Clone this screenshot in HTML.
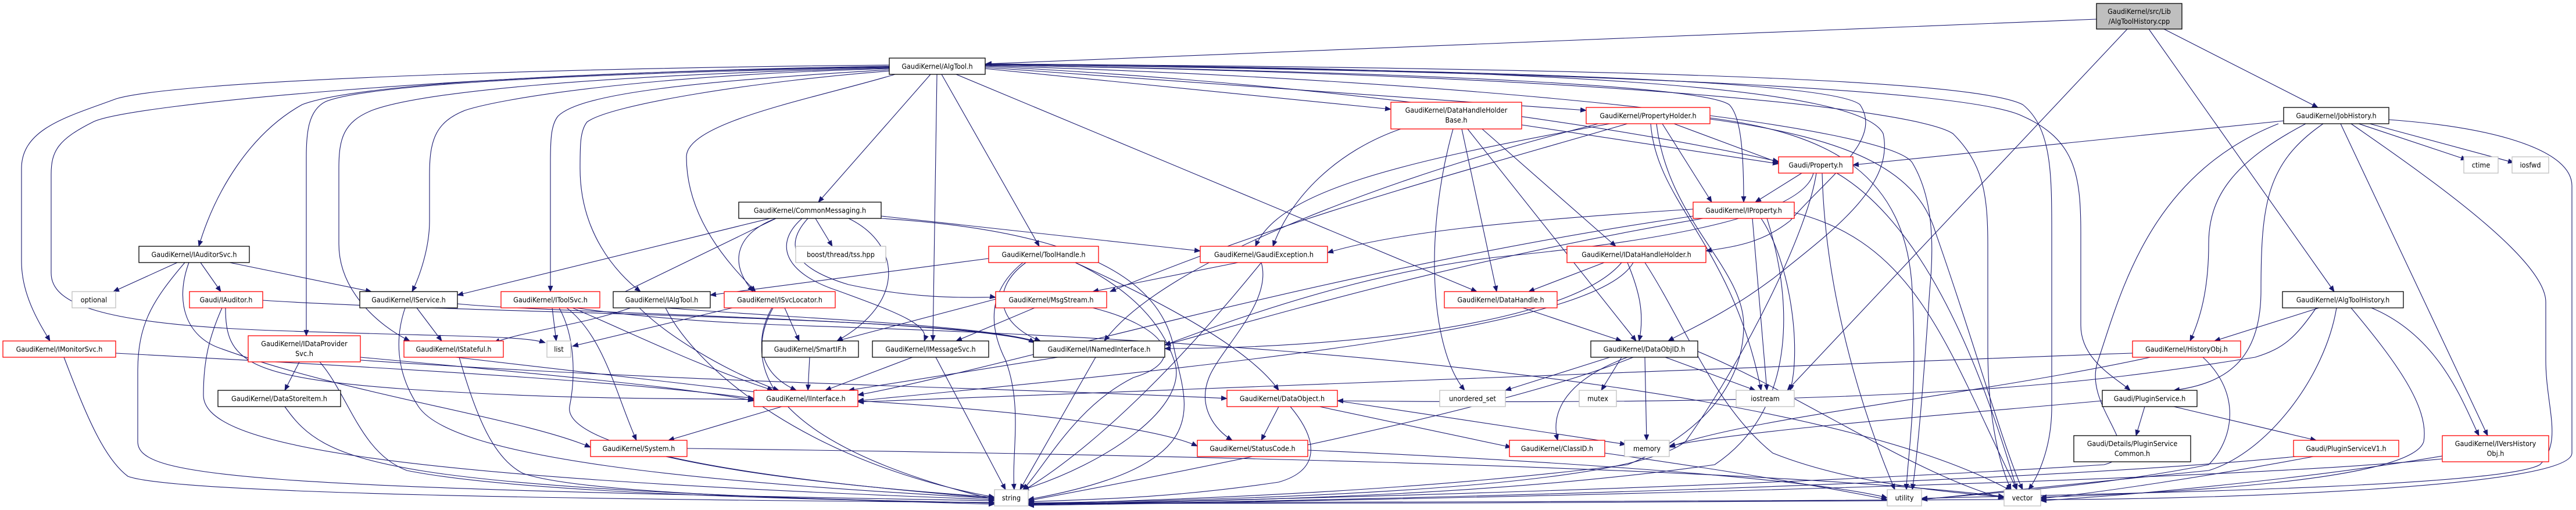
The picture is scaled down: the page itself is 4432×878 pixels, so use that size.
<!DOCTYPE html>
<html><head><meta charset="utf-8"><style>
html,body{margin:0;padding:0;background:#fff}
svg{display:block}
text{font-family:"DejaVu Sans","Liberation Sans",sans-serif;font-size:12.5px;fill:#000;text-anchor:middle;font-stretch:condensed}
.e{fill:none;stroke:#191970;stroke-width:1.1}
.r{fill:#fff;stroke:#ff0000;stroke-width:1.3}
.b{fill:#fff;stroke:#000;stroke-width:1.3}
.g{fill:#fff;stroke:#bfbfbf;stroke-width:1.3}
</style></head><body>
<svg width="4432" height="878" viewBox="0 0 4432 878" xmlns="http://www.w3.org/2000/svg">
<defs><marker id="a" markerWidth="11" markerHeight="9" refX="10" refY="4.5" orient="auto" markerUnits="userSpaceOnUse"><path d="M0,0 L11,4.5 L0,9z" fill="#191970"/></marker></defs>
<g class="e" marker-end="url(#a)">
<!-- cpp -->
<path d="M3607,33 L1696,110"/>
<path d="M3660,50 L3075,672"/>
<path d="M3697,50 L4016,502"/>
<path d="M3723,50 L3988,185"/>
<!-- AlgTool outgoing -->
<path d="M1530,112 C900,118 300,140 200,170 C120,200 37,220 37,290 L37,450 C37,510 70,560 86,587"/>
<path d="M1530,114 C800,125 220,180 160,210 C100,240 88,260 88,300 L88,470 C88,520 160,560 500,570 C800,580 900,578 938,590"/>
<path d="M1530,115 C900,125 600,150 520,180 C430,230 370,330 342,424"/>
<path d="M1530,116 C900,128 620,150 560,175 C530,190 527,230 527,270 L527,578"/>
<path d="M1530,117 C1000,130 720,160 640,190 C590,210 583,240 583,290 L583,420 C583,500 650,560 705,587"/>
<path d="M1530,118 C1100,130 860,170 800,190 C750,210 739,240 739,300 L739,380 C739,430 720,480 709,502"/>
<path d="M1530,120 C1200,140 1000,160 960,200 C948,215 947,240 947,280 L947,502"/>
<path d="M1532,122 C1300,140 1050,180 1010,210 C998,225 998,250 998,290 C998,400 1060,470 1102,502"/>
<path d="M1540,128 C1400,170 1181,210 1181,270 C1181,380 1260,460 1300,502"/>
<path d="M1601,128 L1408,348"/>
<path d="M1612,128 L1605,587"/>
<path d="M1620,128 L1788,424"/>
<path d="M1645,128 L2541,502"/>
<path d="M1694,118 L2393,188"/>
<path d="M1694,116 L2729,190"/>
<path d="M1694,114 C2200,140 2700,200 3060,278"/>
<path d="M1694,112 C2500,125 2930,150 2975,180 C2995,200 3000,260 3000,348"/>
<path d="M1694,111 C2600,120 3150,140 3200,180 C3240,240 3150,300 3080,380 C3030,420 2980,425 2935,432"/>
<path d="M1694,110 C2700,118 3200,150 3240,230 C3260,320 3150,400 3050,480 C2970,540 2900,570 2870,587"/>
<path d="M1694,110 C2900,118 3400,140 3480,180 C3530,220 3530,300 3530,400 L3530,700 C3530,780 3500,830 3490,843"/>
<path d="M1694,111 C2900,125 3400,160 3480,200 C3570,240 3580,300 3580,400 L3580,560 C3580,620 3640,650 3665,672"/>
<path d="M1694,112 C2800,130 3300,190 3360,230 C3410,280 3420,330 3420,420 L3420,600 C3420,720 3440,800 3460,843"/>
<path d="M1694,113 C2600,140 3250,220 3290,280 C3320,330 3330,400 3320,500 C3310,650 3300,780 3290,843"/>
<!-- IAuditorSvc -->
<path d="M305,452 L195,502"/>
<path d="M345,452 L380,502"/>
<path d="M395,452 L639,502"/>
<path d="M318,452 C260,520 237,560 237,640 L237,760 C237,820 400,840 1711,862"/>
<path d="M325,452 C300,520 320,580 380,600 C600,680 900,720 1016,770"/>
<!-- IAuditor -->
<path d="M452,517 C800,540 1700,545 1780,590"/>
<path d="M382,530 C360,580 350,620 350,680 C350,760 600,820 1711,860"/>
<path d="M388,530 C388,620 420,650 700,670 C1000,690 1200,685 1297,688"/>
<!-- IService -->
<path d="M717,530 L760,587"/>
<path d="M697,530 C680,580 680,640 720,700 C780,790 1200,830 1711,858"/>
<path d="M787,523 C950,540 1700,550 1790,592"/>
<!-- IToolSvc -->
<path d="M950,530 L957,587"/>
<path d="M962,530 C990,580 990,650 980,700 C970,760 1200,820 1711,856"/>
<path d="M975,530 C1040,580 1060,680 1095,758"/>
<path d="M985,530 C1080,570 1200,630 1330,672"/>
<path d="M990,530 C1200,560 1400,560 1500,565 C2500,600 3200,700 3460,845"/>
<!-- IAlgTool -->
<path d="M1085,530 C1000,560 900,570 850,590"/>
<path d="M1145,530 C1400,550 1700,560 1790,590"/>
<path d="M1145,530 C1200,640 1400,800 1711,856"/>
<path d="M1100,530 C1150,580 1250,640 1340,672"/>
<!-- ISvcLocator -->
<path d="M1350,530 L1375,587"/>
<path d="M1328,530 C1300,580 1300,640 1370,672"/>
<path d="M1330,530 C1280,620 1300,760 1711,860"/>
<path d="M1260,530 L985,596"/>
<!-- CommonMessaging -->
<path d="M1403,376 L1432,424"/>
<path d="M1335,376 C1270,400 1250,450 1296,502"/>
<path d="M1380,376 C1330,420 1350,470 1440,500 C1550,540 1600,560 1590,587"/>
<path d="M1390,376 C1350,420 1360,460 1460,490 C1600,520 1700,510 1713,512"/>
<path d="M1460,376 C1550,420 1560,520 1440,587"/>
<path d="M1516,372 L2065,432"/>
<path d="M1325,376 L787,508"/>
<path d="M1335,376 L1055,512"/>
<path d="M1516,376 C1900,400 2000,500 2020,600 C2040,700 2100,800 1769,860"/>
<!-- ToolHandle -->
<path d="M1701,445 L1222,508"/>
<path d="M1760,452 C1700,500 1700,560 1730,620 C1760,700 1740,780 1745,843"/>
<path d="M1765,452 C1700,500 1720,560 1790,587"/>
<path d="M1850,452 C1950,500 2000,560 2020,620 C2050,700 1900,800 1760,843"/>
<path d="M1850,452 C2000,520 2150,600 2200,672"/>
<!-- GaudiException -->
<path d="M2130,452 L1880,502"/>
<path d="M2170,452 C2050,600 1900,760 1760,845"/>
<path d="M2170,452 C2190,520 2100,600 2080,650 C2060,700 2090,740 2120,758"/>
<!-- MsgStream -->
<path d="M1780,530 L1645,587"/>
<path d="M1880,530 C2000,560 2050,620 1950,650 C1850,700 1800,800 1760,843"/>
<path d="M1713,515 L1440,587"/>
<!-- SmartIF / IMessageSvc / INamedInterface -->
<path d="M1393,615 L1390,672"/>
<path d="M1570,615 L1420,672"/>
<path d="M1610,615 L1730,843"/>
<path d="M1820,615 L1460,672"/>
<path d="M1885,615 L1755,843"/>
<!-- IInterface -->
<path d="M1345,700 L1150,758"/>
<path d="M1476,690 C1800,710 2000,740 2060,768"/>
<!-- System -->
<path d="M1150,786 C1300,820 1500,840 1711,858"/>
<path d="M1182,772 C1800,780 3000,800 3448,855"/>
<!-- IMonitorSvc / IStateful / IDataProviderSvc -->
<path d="M199,608 C800,640 1100,660 1297,686"/>
<path d="M110,615 C150,720 180,790 220,820 C300,850 1000,860 1711,865"/>
<path d="M784,615 L1310,676"/>
<path d="M790,615 C820,720 850,790 900,815 C1000,850 1400,860 1711,866"/>
<path d="M515,623 L490,672"/>
<path d="M620,615 C1000,650 1200,670 1297,690"/>
<path d="M620,620 C1200,660 1800,670 2111,686"/>
<path d="M550,623 C600,680 620,780 700,810 C900,850 1400,860 1711,866"/>
<path d="M490,700 C560,800 650,840 1711,868"/>
<!-- DataObject -->
<path d="M2200,700 L2170,758"/>
<path d="M2301,690 L2797,765"/>
<path d="M2270,700 L2600,770"/>
<path d="M2220,700 C2270,760 2270,810 2200,830 C2000,860 1850,860 1769,864"/>
<!-- StatusCode -->
<path d="M2250,775 C2600,790 3100,820 3247,857"/>
<!-- DHHB -->
<path d="M2410,222 C2300,260 2220,340 2190,424"/>
<path d="M2515,222 L2575,502"/>
<path d="M2525,222 L2815,587"/>
<path d="M2550,222 L2780,424"/>
<path d="M2500,222 C2450,400 2460,600 2520,672"/>
<path d="M2618,215 L3060,282"/>
<!-- PropertyHolder -->
<path d="M2860,213 L2945,348"/>
<path d="M2880,213 L3060,280"/>
<path d="M2770,213 C2400,280 2200,330 2160,424"/>
<path d="M2800,213 C2500,300 2200,380 1910,502"/>
<path d="M2750,213 C2400,300 2000,450 1900,587"/>
<path d="M2840,213 C2850,350 2980,420 3030,672"/>
<path d="M2850,213 C2870,380 3000,460 3000,560 C3000,680 2900,760 2800,800 C2400,850 2000,860 1769,868"/>
<path d="M2942,205 C3200,240 3300,300 3330,400 C3400,600 3450,780 3480,843"/>
<path d="M2942,203 C3150,230 3280,300 3290,500 C3300,700 3280,800 3280,843"/>
<!-- Property -->
<path d="M3100,298 L3020,348"/>
<path d="M3135,298 C3140,500 3200,700 3260,843"/>
<path d="M3160,298 C3300,380 3400,600 3470,843"/>
<path d="M3120,298 C3100,380 2800,420 2600,440 C2400,460 2200,520 2004,594"/>
<path d="M3125,298 C3110,400 3000,620 2900,760 C2800,840 2200,860 1769,866"/>
<!-- IProperty -->
<path d="M2913,360 C2600,380 2400,400 2284,435"/>
<path d="M2930,376 C2500,450 2200,540 2004,594"/>
<path d="M3015,376 L3040,672"/>
<path d="M3030,376 C3080,450 3100,600 3080,672"/>
<path d="M3087,366 C3300,420 3350,600 3470,843"/>
<path d="M2913,372 C2300,460 1700,640 1476,680"/>
<path d="M3040,376 C3080,500 3100,700 2950,800 C2600,850 2200,862 1769,868"/>
<!-- IDataHandleHolder -->
<path d="M2760,452 L2630,502"/>
<path d="M2800,452 C2820,500 2830,540 2820,587"/>
<path d="M2790,452 C2700,560 2300,600 2004,600"/>
<path d="M2810,452 C2750,560 2200,620 1476,690"/>
<path d="M2830,452 C2900,560 2950,700 3050,780 C3200,840 3400,850 3448,856"/>
<!-- DataHandle -->
<path d="M2620,530 L2790,587"/>
<!-- DataObjID -->
<path d="M2770,615 L2590,672"/>
<path d="M2790,615 L2755,672"/>
<path d="M2865,615 L3020,672"/>
<path d="M2830,615 L2833,758"/>
<path d="M2800,615 C2680,660 2670,720 2680,758"/>
<path d="M2810,615 C2600,700 2100,800 1769,862"/>
<path d="M2921,605 C3100,680 3300,820 3448,858"/>
<!-- JobHistory -->
<path d="M3929,208 L3188,284"/>
<path d="M4058,213 L4244,275"/>
<path d="M4077,213 L4325,280"/>
<path d="M4027,213 L4280,750"/>
<path d="M3967,213 C3840,280 3800,340 3800,420 C3800,500 3785,550 3768,587"/>
<path d="M3920,213 C3700,300 3650,500 3610,620 C3580,700 3700,780 3620,800 C3000,840 2200,860 1769,868"/>
<path d="M4110,206 C4300,220 4425,260 4425,320 L4425,780 C4425,840 3800,860 3511,860"/>
<path d="M3997,213 C3900,280 3890,350 3890,500 C3890,620 3830,660 3740,672"/>
<path d="M4045,213 C4200,320 4380,450 4380,520 L4380,620 C4380,700 4410,760 4370,800 C4300,840 3600,850 3306,858"/>
<!-- AlgToolHistory.h -->
<path d="M3990,530 L3810,587"/>
<path d="M4080,530 C4200,580 4240,700 4265,750"/>
<path d="M4020,530 C4000,650 3900,780 3800,810 C3500,840 3400,850 3306,860"/>
<path d="M4045,530 C4120,620 4180,700 4170,760 C4150,830 3700,850 3511,856"/>
<path d="M3985,530 C3950,580 3930,600 3880,615 C3600,660 3300,700 2301,690"/>
<!-- HistoryObj -->
<path d="M3669,608 C3300,620 3000,640 1476,692"/>
<path d="M3790,615 C3860,680 3840,760 3800,800 C3600,840 3400,850 3306,860"/>
<path d="M3700,615 C3400,680 3000,720 2872,770"/>
<!-- PluginService -->
<path d="M3690,700 L3675,750"/>
<path d="M3740,700 L3985,758"/>
<path d="M3617,690 C3400,710 3000,740 2872,768"/>
<!-- PSV1 / IVersHistoryObj / DetailsPSC -->
<path d="M3980,786 C3800,820 3600,850 3511,858"/>
<path d="M4202,785 C4000,820 3700,850 3511,862"/>
<path d="M4202,790 C3800,830 2500,860 1769,870"/>
<path d="M3950,786 C3500,830 2500,860 1769,869"/>
<!-- long bottom bus to string / utility -->
<path d="M3448,860 C3000,862 2200,866 1769,866"/>
<path d="M3247,862 C2800,866 2200,867 1769,867"/>
<path d="M2761,780 C2900,800 3100,830 3247,860"/>
</g>
<!-- nodes -->
<g>
<rect class="b" x="3607" y="6" width="147" height="44" style="fill:#bfbfbf"/><text x="3680.5" y="24">GaudiKernel/src/Lib</text><text x="3680.5" y="41">/AlgToolHistory.cpp</text>
<rect class="b" x="1530" y="100" width="165" height="28"/><text x="1612.5" y="118.5">GaudiKernel/AlgTool.h</text>
<rect class="r" x="2393" y="176" width="225" height="46"/><text x="2505.5" y="194">GaudiKernel/DataHandleHolder</text><text x="2505.5" y="211">Base.h</text>
<rect class="r" x="2729" y="185" width="213" height="28"/><text x="2835.5" y="203.5">GaudiKernel/PropertyHolder.h</text>
<rect class="b" x="3929" y="185" width="181" height="28"/><text x="4019.5" y="203.5">GaudiKernel/JobHistory.h</text>
<rect class="r" x="3060" y="270" width="128" height="28"/><text x="3124" y="288.5">Gaudi/Property.h</text>
<rect class="g" x="4239" y="270" width="59" height="28"/><text x="4268.5" y="288.5">ctime</text>
<rect class="g" x="4322" y="270" width="63" height="28"/><text x="4353.5" y="288.5">iosfwd</text>
<rect class="b" x="1271" y="348" width="245" height="28"/><text x="1393.5" y="366.5">GaudiKernel/CommonMessaging.h</text>
<rect class="r" x="2913" y="348" width="174" height="28"/><text x="3000" y="366.5">GaudiKernel/IProperty.h</text>
<rect class="b" x="239" y="424" width="190" height="28"/><text x="334" y="442.5">GaudiKernel/IAuditorSvc.h</text>
<rect class="g" x="1369" y="424" width="155" height="28"/><text x="1446.5" y="442.5">boost/thread/tss.hpp</text>
<rect class="r" x="1701" y="424" width="189" height="28"/><text x="1795.5" y="442.5">GaudiKernel/ToolHandle.h</text>
<rect class="r" x="2065" y="424" width="219" height="28"/><text x="2174.5" y="442.5">GaudiKernel/GaudiException.h</text>
<rect class="r" x="2696" y="424" width="239" height="28"/><text x="2815.5" y="442.5">GaudiKernel/IDataHandleHolder.h</text>
<rect class="g" x="124" y="502" width="75" height="28"/><text x="161.5" y="520.5">optional</text>
<rect class="r" x="326" y="502" width="126" height="28"/><text x="389" y="520.5">Gaudi/IAuditor.h</text>
<rect class="b" x="619" y="502" width="168" height="28"/><text x="703" y="520.5">GaudiKernel/IService.h</text>
<rect class="r" x="862" y="502" width="170" height="28"/><text x="947" y="520.5">GaudiKernel/IToolSvc.h</text>
<rect class="b" x="1055" y="502" width="167" height="28"/><text x="1138.5" y="520.5">GaudiKernel/IAlgTool.h</text>
<rect class="r" x="1246" y="502" width="191" height="28"/><text x="1341.5" y="520.5">GaudiKernel/ISvcLocator.h</text>
<rect class="r" x="1713" y="502" width="191" height="28"/><text x="1808.5" y="520.5">GaudiKernel/MsgStream.h</text>
<rect class="r" x="2485" y="502" width="194" height="28"/><text x="2582" y="520.5">GaudiKernel/DataHandle.h</text>
<rect class="b" x="3927" y="502" width="208" height="28"/><text x="4031" y="520.5">GaudiKernel/AlgToolHistory.h</text>
<rect class="r" x="5" y="587" width="194" height="28"/><text x="102" y="605.5">GaudiKernel/IMonitorSvc.h</text>
<rect class="r" x="427" y="578" width="193" height="45"/><text x="523.5" y="596">GaudiKernel/IDataProvider</text><text x="523.5" y="613">Svc.h</text>
<rect class="r" x="695" y="587" width="171" height="28"/><text x="780.5" y="605.5">GaudiKernel/IStateful.h</text>
<rect class="g" x="941" y="587" width="41" height="28"/><text x="961.5" y="605.5">list</text>
<rect class="b" x="1311" y="587" width="166" height="28"/><text x="1394" y="605.5">GaudiKernel/SmartIF.h</text>
<rect class="b" x="1501" y="587" width="200" height="28"/><text x="1601" y="605.5">GaudiKernel/IMessageSvc.h</text>
<rect class="b" x="1778" y="587" width="226" height="28"/><text x="1891" y="605.5">GaudiKernel/INamedInterface.h</text>
<rect class="b" x="2737" y="587" width="184" height="28"/><text x="2829" y="605.5">GaudiKernel/DataObjID.h</text>
<rect class="r" x="3669" y="587" width="186" height="28"/><text x="3762" y="605.5">GaudiKernel/HistoryObj.h</text>
<rect class="b" x="375" y="672" width="211" height="28"/><text x="480.5" y="690.5">GaudiKernel/DataStoreItem.h</text>
<rect class="r" x="1297" y="672" width="179" height="28"/><text x="1386.5" y="690.5">GaudiKernel/IInterface.h</text>
<rect class="r" x="2111" y="672" width="190" height="28"/><text x="2206" y="690.5">GaudiKernel/DataObject.h</text>
<rect class="g" x="2477" y="672" width="113" height="28"/><text x="2533.5" y="690.5">unordered_set</text>
<rect class="g" x="2717" y="672" width="64" height="28"/><text x="2749" y="690.5">mutex</text>
<rect class="g" x="2987" y="672" width="100" height="28"/><text x="3037" y="690.5">iostream</text>
<rect class="b" x="3617" y="672" width="163" height="28"/><text x="3698.5" y="690.5">Gaudi/PluginService.h</text>
<rect class="r" x="1016" y="758" width="166" height="28"/><text x="1099" y="776.5">GaudiKernel/System.h</text>
<rect class="r" x="2060" y="758" width="190" height="28"/><text x="2155" y="776.5">GaudiKernel/StatusCode.h</text>
<rect class="r" x="2597" y="758" width="164" height="28"/><text x="2679" y="776.5">GaudiKernel/ClassID.h</text>
<rect class="g" x="2795" y="758" width="77" height="28"/><text x="2833.5" y="776.5">memory</text>
<rect class="b" x="3568" y="750" width="201" height="45"/><text x="3668.5" y="768">Gaudi/Details/PluginService</text><text x="3668.5" y="785">Common.h</text>
<rect class="r" x="3946" y="758" width="181" height="28"/><text x="4036.5" y="776.5">Gaudi/PluginServiceV1.h</text>
<rect class="r" x="4202" y="750" width="183" height="45"/><text x="4293.5" y="768">GaudiKernel/IVersHistory</text><text x="4293.5" y="785">Obj.h</text>
<rect class="g" x="1711" y="843" width="58" height="28"/><text x="1740" y="861.5">string</text>
<rect class="g" x="3247" y="843" width="59" height="28"/><text x="3276.5" y="861.5">utility</text>
<rect class="g" x="3448" y="843" width="63" height="28"/><text x="3479.5" y="861.5">vector</text>
</g>
</svg>
</body></html>
